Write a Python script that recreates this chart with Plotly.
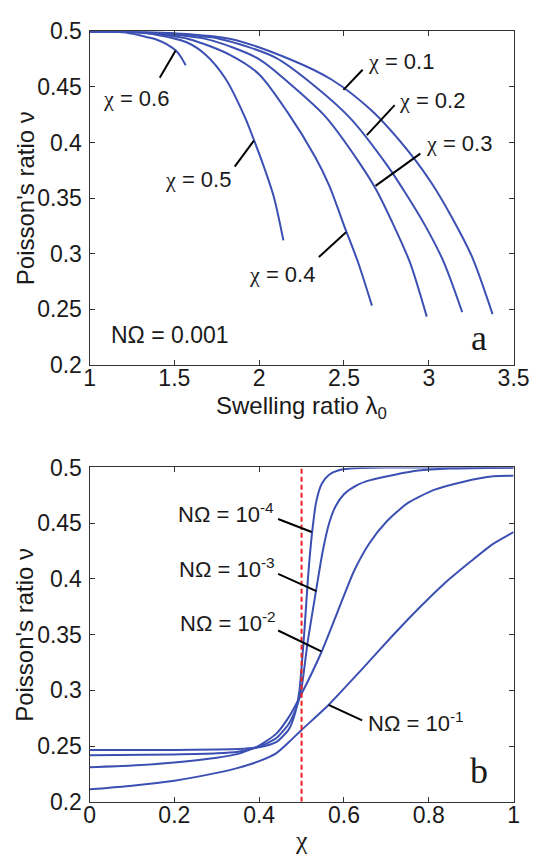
import plotly.graph_objects as go

# ---------------- data: panel a (Poisson's ratio vs swelling ratio, N*Omega = 0.001) ----------------
chi01_x = [1.0, 1.2, 1.475, 1.832, 2.188, 2.426, 2.663, 2.901, 3.020, 3.138, 3.257, 3.376]
chi01_y = [0.5, 0.4999, 0.4985, 0.4932, 0.4745, 0.4567, 0.4287, 0.388, 0.3626, 0.332, 0.2964, 0.2455]
chi02_x = [1.0, 1.2, 1.439, 1.769, 2.099, 2.318, 2.538, 2.758, 2.867, 2.977, 3.087, 3.197]
chi02_y = [0.5, 0.4999, 0.4985, 0.4932, 0.4762, 0.452, 0.4217, 0.3787, 0.3534, 0.3256, 0.2928, 0.2473]
chi03_x = [1.0, 1.2, 1.398, 1.696, 1.994, 2.193, 2.392, 2.590, 2.690, 2.789, 2.889, 2.988]
chi03_y = [0.5, 0.4998, 0.4982, 0.4928, 0.4755, 0.4512, 0.423, 0.3819, 0.3575, 0.3267, 0.292, 0.2432]
chi04_x = [1.0, 1.15, 1.333, 1.583, 1.833, 1.999, 2.166, 2.332, 2.415, 2.499, 2.582, 2.665]
chi04_y = [0.5, 0.4999, 0.4985, 0.4932, 0.4785, 0.4615, 0.4275, 0.3864, 0.3605, 0.3259, 0.2926, 0.2531]
chi05_x = [1.0, 1.229, 1.400, 1.572, 1.686, 1.800, 1.914, 1.972, 2.029, 2.086, 2.143]
chi05_y = [0.5, 0.4996, 0.4968, 0.4902, 0.4788, 0.4578, 0.4235, 0.4012, 0.3777, 0.3514, 0.3119]
chi06_x = [1.0, 1.198, 1.284, 1.340, 1.397, 1.454, 1.510, 1.539, 1.567]
chi06_y = [0.5, 0.4993, 0.497, 0.4948, 0.4925, 0.4885, 0.4825, 0.477, 0.4695]

top_x_ticks = [1, 1.5, 2, 2.5, 3, 3.5]
top_x_labels = ["1", "1.5", "2", "2.5", "3", "3.5"]
y_ticks = [0.2, 0.25, 0.3, 0.35, 0.4, 0.45, 0.5]
y_labels = ["0.2", "0.25", "0.3", "0.35", "0.4", "0.45", "0.5"]

# ---------------- data: panel b (Poisson's ratio vs chi) ----------------
n4_x = [0, 0.2, 0.3, 0.35, 0.4, 0.44, 0.47, 0.485, 0.495, 0.502, 0.507, 0.515, 0.525, 0.535, 0.548, 0.565, 0.586, 0.62, 0.7, 1.0]
n4_y = [0.2465, 0.2465, 0.247, 0.2475, 0.249, 0.2535, 0.265, 0.28, 0.30, 0.33, 0.355, 0.40, 0.4421, 0.47, 0.4856, 0.4935, 0.4972, 0.4992, 0.4999, 0.5]
n3_x = [0, 0.2, 0.3, 0.35, 0.4, 0.44, 0.47, 0.49, 0.5, 0.515, 0.534, 0.55, 0.565, 0.58, 0.6, 0.63, 0.662, 0.72, 0.775, 0.85, 1.0]
n3_y = [0.2418, 0.2425, 0.2435, 0.245, 0.2495, 0.257, 0.27, 0.287, 0.302, 0.345, 0.389, 0.425, 0.45, 0.465, 0.476, 0.484, 0.4886, 0.4935, 0.4972, 0.499, 0.4998]
n2_x = [0, 0.1, 0.2, 0.3, 0.35, 0.4, 0.44, 0.47, 0.5, 0.5465, 0.6, 0.624, 0.66, 0.699, 0.75, 0.8124, 0.88, 0.9525, 1.0]
n2_y = [0.231, 0.2325, 0.2353, 0.2395, 0.243, 0.2505, 0.261, 0.276, 0.297, 0.334, 0.385, 0.4073, 0.432, 0.4508, 0.468, 0.4799, 0.487, 0.492, 0.4925]
n1_x = [0, 0.1, 0.2, 0.3, 0.35, 0.4, 0.44, 0.47, 0.5, 0.56, 0.64, 0.7145, 0.78, 0.835, 0.9, 0.95, 1.0]
n1_y = [0.2112, 0.2145, 0.219, 0.226, 0.2305, 0.2365, 0.2435, 0.2535, 0.2645, 0.2855, 0.318, 0.349, 0.375, 0.3953, 0.416, 0.431, 0.442]

bot_x_ticks = [0, 0.2, 0.4, 0.6, 0.8, 1]
bot_x_labels = ["0", "0.2", "0.4", "0.6", "0.8", "1"]
critical_chi = 0.5

# ---------------- styling ----------------
BLUE = "#3b50b2"
FONT = "Liberation Sans, Arial, sans-serif"
SERIF = "Liberation Serif, Times New Roman, serif"
TXT = "#1a1a1a"
XDOM = [0.160, 0.9724]
YDOM_TOP = [0.5814, 0.9781]
YDOM_BOT = [0.0609, 0.4590]
TICK_SIZE = 23
CHI = "<span style=\"font-family:'Liberation Serif'\">χ</span>"

fig = go.Figure()

for xs, ys in [(chi01_x, chi01_y), (chi02_x, chi02_y), (chi03_x, chi03_y),
               (chi04_x, chi04_y), (chi05_x, chi05_y), (chi06_x, chi06_y)]:
    fig.add_trace(go.Scatter(x=xs, y=ys, mode="lines", xaxis="x", yaxis="y",
                             line=dict(color=BLUE, width=2, shape="spline", smoothing=0.8),
                             showlegend=False, hoverinfo="skip"))

for xs, ys in [(n4_x, n4_y), (n3_x, n3_y), (n2_x, n2_y), (n1_x, n1_y)]:
    fig.add_trace(go.Scatter(x=xs, y=ys, mode="lines", xaxis="x2", yaxis="y2",
                             line=dict(color=BLUE, width=2, shape="spline", smoothing=0.6),
                             showlegend=False, hoverinfo="skip"))


def axis_style(**kw):
    d = dict(showline=True, linecolor="#333", linewidth=1, mirror="ticks",
             ticks="inside", ticklen=5, tickcolor="#333", showgrid=False, zeroline=False,
             tickfont=dict(family=FONT, size=TICK_SIZE, color=TXT))
    d.update(kw)
    return d


fig.update_layout(
    width=544, height=866, margin=dict(l=0, r=0, t=0, b=0),
    paper_bgcolor="white", plot_bgcolor="white",
    font=dict(family=FONT, size=TICK_SIZE, color=TXT),
    xaxis=axis_style(domain=XDOM, range=[1, 3.5], anchor="y", tickvals=top_x_ticks,
                     ticktext=top_x_labels, ticklabelstandoff=-7),
    yaxis=axis_style(domain=YDOM_TOP, range=[0.2, 0.5], anchor="x", tickvals=y_ticks,
                     ticktext=y_labels, ticklabelstandoff=2),
    xaxis2=axis_style(domain=XDOM, range=[0, 1], anchor="y2", tickvals=bot_x_ticks,
                      ticktext=bot_x_labels, ticklabelstandoff=-7),
    yaxis2=axis_style(domain=YDOM_BOT, range=[0.2, 0.5], anchor="x2", tickvals=y_ticks,
                      ticktext=y_labels, ticklabelstandoff=2),
)

# critical chi dashed line
fig.add_shape(type="line", xref="x2", yref="y2", x0=critical_chi, x1=critical_chi,
              y0=0.2, y1=0.5, line=dict(color="#e8231f", width=2, dash="5px,3px"))

# leader lines (label -> curve)
leaders_top = [
    ((1.414, 0.4583), (1.507, 0.4825)),
    ((1.856, 0.3783), (1.969, 0.4016)),
    ((2.352, 0.2968), (2.512, 0.3192)),
    ((2.610, 0.4655), (2.497, 0.4473)),
    ((2.799, 0.4336), (2.635, 0.4066)),
    ((2.950, 0.3900), (2.686, 0.3609)),
]
for (xa, ya), (xb, yb) in leaders_top:
    fig.add_shape(type="line", xref="x", yref="y", x0=xa, y0=ya, x1=xb, y1=yb,
                  line=dict(color="black", width=2))

leaders_bot = [
    ((0.4446, 0.4537), (0.5239, 0.4421)),
    ((0.4448, 0.4045), (0.5351, 0.3891)),
    ((0.4448, 0.3537), (0.5465, 0.3349)),
    ((0.643, 0.2731), (0.5638, 0.2870)),
]
for (xa, ya), (xb, yb) in leaders_bot:
    fig.add_shape(type="line", xref="x2", yref="y2", x0=xa, y0=ya, x1=xb, y1=yb,
                  line=dict(color="black", width=2))


def ann(text, x, y, xref, yref, size=22, family=FONT, **kw):
    fig.add_annotation(text=text, x=x, y=y, xref=xref, yref=yref, showarrow=False,
                       xanchor="center", yanchor="middle",
                       font=dict(family=family, size=size, color=TXT), **kw)


# panel a labels
ann(CHI + " = 0.6", 1.276, 0.4395, "x", "y")
ann(CHI + " = 0.5", 1.639, 0.3667, "x", "y")
ann(CHI + " = 0.4", 2.134, 0.2815, "x", "y")
ann(CHI + " = 0.1", 2.834, 0.4729, "x", "y")
ann(CHI + " = 0.2", 3.019, 0.4380, "x", "y")
ann(CHI + " = 0.3", 3.176, 0.3987, "x", "y")
ann("NΩ = 0.001", 1.473, 0.227, "x", "y", size=23)
ann("a", 3.297, 0.224, "x", "y", size=36, family=SERIF)

# panel b labels
ann("NΩ = 10<sup>-4</sup>", 0.322, 0.4587, "x2", "y2")
ann("NΩ = 10<sup>-3</sup>", 0.3237, 0.4095, "x2", "y2")
ann("NΩ = 10<sup>-2</sup>", 0.3259, 0.3617, "x2", "y2")
ann("NΩ = 10<sup>-1</sup>", 0.771, 0.2718, "x2", "y2")
ann("b", 0.918, 0.2275, "x2", "y2", size=36, family=SERIF)

# axis titles
ann("Poisson's ratio ν", 20 / 544, (YDOM_TOP[0] + YDOM_TOP[1]) / 2, "paper", "paper",
    size=24, textangle=-90)
ann("Poisson's ratio ν", 19 / 544, (YDOM_BOT[0] + YDOM_BOT[1]) / 2, "paper", "paper",
    size=24, textangle=-90)
ann("Swelling ratio λ<sub>0</sub>", (XDOM[0] + XDOM[1]) / 2, 1 - 407 / 866, "paper", "paper",
    size=24)
ann("χ", (XDOM[0] + XDOM[1]) / 2, 1 - 853 / 866, "paper", "paper", size=26, family=SERIF)

fig.write_html("out.html")
